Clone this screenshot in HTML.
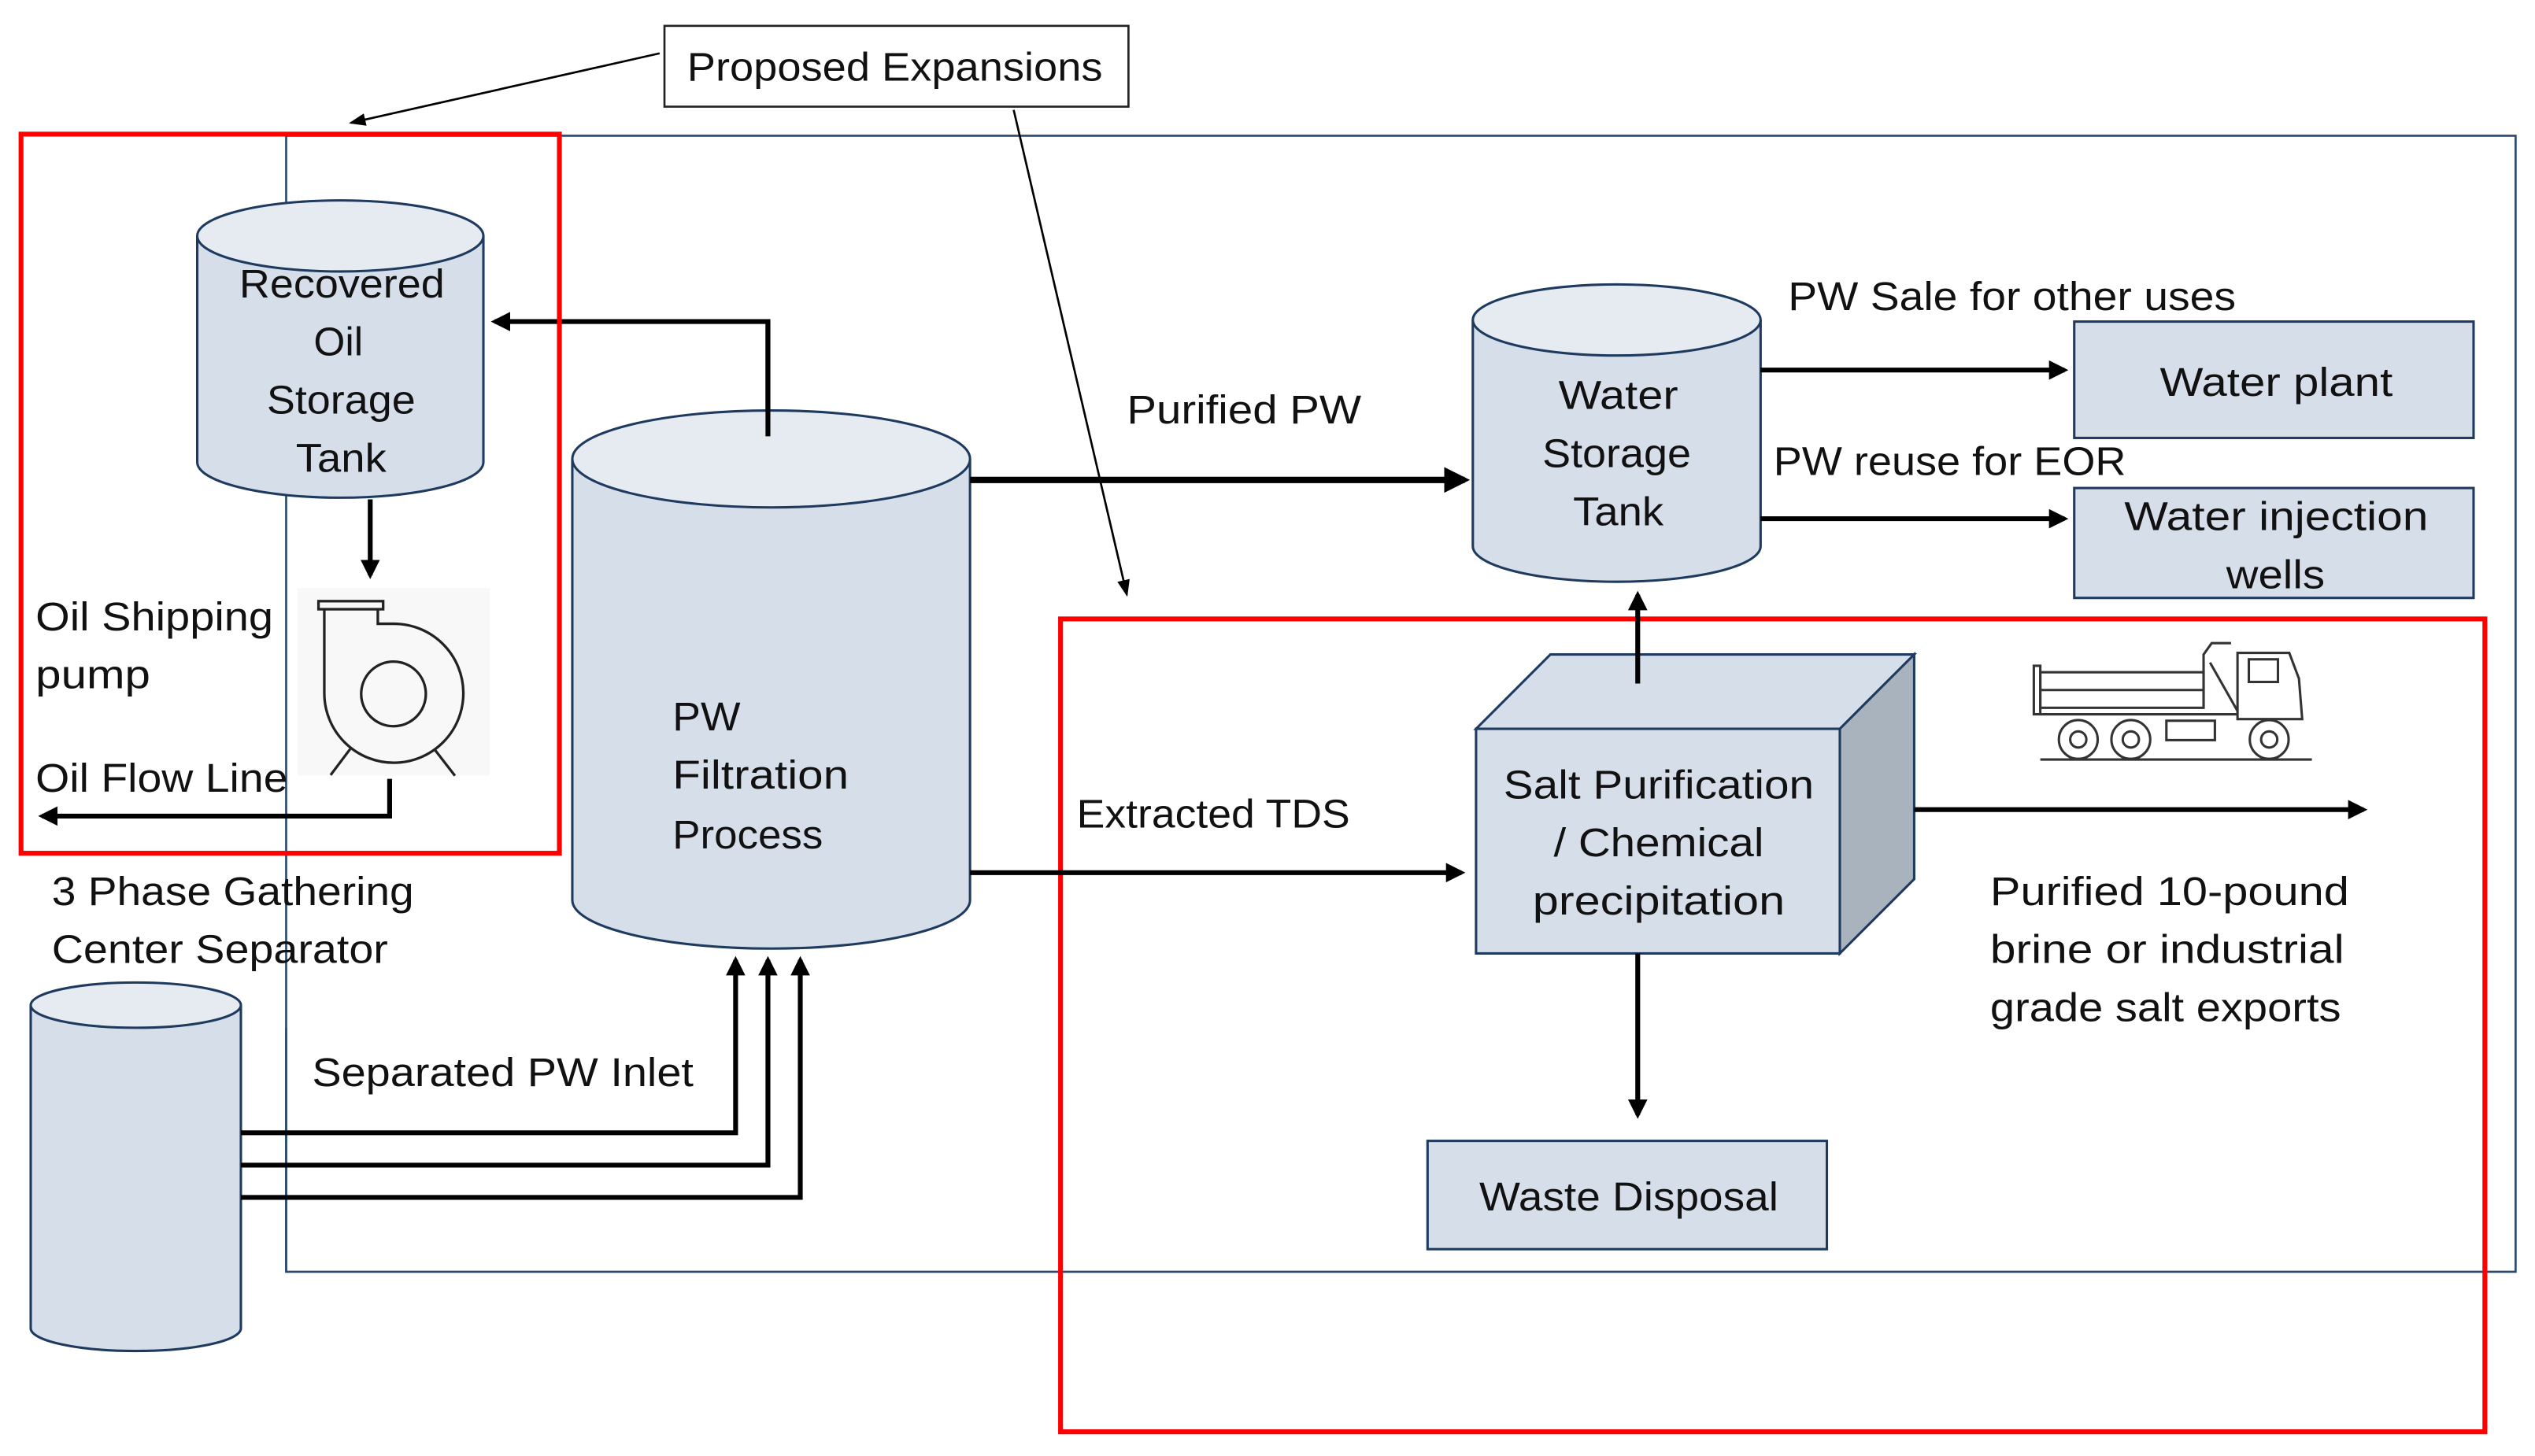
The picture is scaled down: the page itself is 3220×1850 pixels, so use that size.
<!DOCTYPE html>
<html><head><meta charset="utf-8"><style>
html,body{margin:0;padding:0;background:#fff;}
svg{display:block;}
text{font-family:"Liberation Sans Narrow","Liberation Sans",sans-serif;font-size:25px;fill:#111;}
</style></head><body>
<svg width="3220" height="1850" viewBox="0 0 1568 901" preserveAspectRatio="none" xmlns="http://www.w3.org/2000/svg">
<defs>
<marker id="ah" markerWidth="4" markerHeight="4" refX="3.2" refY="2" orient="auto" markerUnits="strokeWidth"><path d="M0,0 L4,2 L0,4 z" fill="#000"/></marker>
<marker id="ahs" markerWidth="8" markerHeight="8" refX="7" refY="4" orient="auto" markerUnits="strokeWidth"><path d="M0,1 L8,4 L0,7 z" fill="#000"/></marker>
</defs>
<rect width="1568" height="901" fill="#fff"/>
<!-- outer blue frame -->
<rect x="177" y="84" width="1379" height="703" fill="none" stroke="#2b4a70" stroke-width="1.3"/>
<!-- proposed expansions -->
<rect x="411" y="16" width="287" height="50" fill="#fff" stroke="#222" stroke-width="1.3"/>
<text x="425" y="50" textLength="257" lengthAdjust="spacingAndGlyphs">Proposed Expansions</text>
<line x1="408" y1="33" x2="217" y2="76" stroke="#000" stroke-width="1.3" marker-end="url(#ahs)"/>
<line x1="627" y1="68" x2="697" y2="368" stroke="#000" stroke-width="1.3" marker-end="url(#ahs)"/>

<!-- Recovered oil tank -->
<path d="M122,146 L122,286 A88.5,22 0 0 0 299,286 L299,146" fill="#d6dfe9" stroke="#1f3a5f" stroke-width="1.5"/>
<ellipse cx="210.5" cy="146" rx="88.5" ry="22" fill="#e6ebf2" stroke="#1f3a5f" stroke-width="1.5"/>
<text x="148" y="184" textLength="127" lengthAdjust="spacingAndGlyphs">Recovered</text>
<text x="194" y="220">Oil</text>
<text x="165" y="256" textLength="92" lengthAdjust="spacingAndGlyphs">Storage</text>
<text x="183" y="292" textLength="56" lengthAdjust="spacingAndGlyphs">Tank</text>
<polyline points="475,270 475,199 306,199" fill="none" stroke="#000" stroke-width="3" marker-end="url(#ah)"/>
<line x1="229" y1="309" x2="229" y2="356" stroke="#000" stroke-width="3" marker-end="url(#ah)"/>

<!-- pump -->
<rect x="184" y="364" width="119" height="116" fill="#f8f8f8"/>
<g fill="none" stroke="#222" stroke-width="1.6">
<rect x="197" y="372" width="40" height="5" fill="#f8f8f8"/>
<path d="M200.6,377 L200.6,429 A43,43 0 1 0 243,386 L233.7,386 L233.7,377"/>
<circle cx="243.4" cy="429.4" r="20"/>
<line x1="216.6" y1="463.5" x2="204.5" y2="479.6"/>
<line x1="269" y1="464" x2="281.4" y2="480"/>
</g>
<text x="22" y="390" textLength="147" lengthAdjust="spacingAndGlyphs">Oil Shipping</text>
<text x="22" y="426" textLength="71" lengthAdjust="spacingAndGlyphs">pump</text>
<text x="22" y="490" textLength="156" lengthAdjust="spacingAndGlyphs">Oil Flow Line</text>
<polyline points="241,482 241,505 26,505" fill="none" stroke="#000" stroke-width="3" marker-end="url(#ah)"/>

<!-- PW filtration tank -->
<path d="M354,284 L354,557 A123,30 0 0 0 600,557 L600,284" fill="#d6dfe9" stroke="#1f3a5f" stroke-width="1.5"/>
<ellipse cx="477" cy="284" rx="123" ry="30" fill="#e6ebf2" stroke="#1f3a5f" stroke-width="1.5"/>
<line x1="475" y1="270" x2="475" y2="199" stroke="#000" stroke-width="3"/>
<text x="416" y="452" textLength="42" lengthAdjust="spacingAndGlyphs">PW</text>
<text x="416" y="488" textLength="109" lengthAdjust="spacingAndGlyphs">Filtration</text>
<text x="416" y="525" textLength="93" lengthAdjust="spacingAndGlyphs">Process</text>

<!-- purified PW -->
<text x="697" y="262" textLength="145" lengthAdjust="spacingAndGlyphs">Purified PW</text>
<line x1="600" y1="297" x2="906" y2="297" stroke="#000" stroke-width="4" marker-end="url(#ah)"/>

<!-- water storage tank -->
<path d="M911,198 L911,338 A89,22 0 0 0 1089,338 L1089,198" fill="#d6dfe9" stroke="#1f3a5f" stroke-width="1.5"/>
<ellipse cx="1000" cy="198" rx="89" ry="22" fill="#e6ebf2" stroke="#1f3a5f" stroke-width="1.5"/>
<text x="964" y="253" textLength="74" lengthAdjust="spacingAndGlyphs">Water</text>
<text x="954" y="289" textLength="92" lengthAdjust="spacingAndGlyphs">Storage</text>
<text x="973" y="325" textLength="56" lengthAdjust="spacingAndGlyphs">Tank</text>

<text x="1106" y="192" textLength="277" lengthAdjust="spacingAndGlyphs">PW Sale for other uses</text>
<line x1="1089" y1="229" x2="1277" y2="229" stroke="#000" stroke-width="3" marker-end="url(#ah)"/>
<rect x="1283" y="199" width="247" height="72" fill="#d6dfe9" stroke="#1f3a5f" stroke-width="1.5"/>
<text x="1336" y="245" textLength="144" lengthAdjust="spacingAndGlyphs">Water plant</text>
<text x="1097" y="294" textLength="218" lengthAdjust="spacingAndGlyphs">PW reuse for EOR</text>
<line x1="1089" y1="321" x2="1277" y2="321" stroke="#000" stroke-width="3" marker-end="url(#ah)"/>
<rect x="1283" y="302" width="247" height="68" fill="#d6dfe9" stroke="#1f3a5f" stroke-width="1.5"/>
<text x="1314" y="328" textLength="188" lengthAdjust="spacingAndGlyphs">Water injection</text>
<text x="1377" y="364" textLength="61" lengthAdjust="spacingAndGlyphs">wells</text>

<!-- red boxes -->
<rect x="13" y="83" width="333" height="445" fill="none" stroke="#ff0000" stroke-width="3"/>
<rect x="656" y="383" width="881" height="503" fill="none" stroke="#ff0000" stroke-width="3"/>

<!-- cube -->
<polygon points="913,451 959,405 1184,405 1138,451" fill="#d6dfe9" stroke="#1f3a5f" stroke-width="1.5"/>
<polygon points="1138,451 1184,405 1184,544 1138,590" fill="#a9b3bd" stroke="#1f3a5f" stroke-width="1.5"/>
<rect x="913" y="451" width="225" height="139" fill="#d6dfe9" stroke="#1f3a5f" stroke-width="1.5"/>
<text x="930" y="494" textLength="192" lengthAdjust="spacingAndGlyphs">Salt Purification</text>
<text x="961" y="530" textLength="130" lengthAdjust="spacingAndGlyphs">/ Chemical</text>
<text x="948" y="566" textLength="156" lengthAdjust="spacingAndGlyphs">precipitation</text>
<line x1="1013" y1="423" x2="1013" y2="368" stroke="#000" stroke-width="3" marker-end="url(#ah)"/>
<line x1="1013" y1="590" x2="1013" y2="690" stroke="#000" stroke-width="3" marker-end="url(#ah)"/>
<rect x="883" y="706" width="247" height="67" fill="#d6dfe9" stroke="#1f3a5f" stroke-width="1.5"/>
<text x="915" y="749" textLength="185" lengthAdjust="spacingAndGlyphs">Waste Disposal</text>

<text x="666" y="512" textLength="169" lengthAdjust="spacingAndGlyphs">Extracted TDS</text>
<line x1="600" y1="540" x2="904" y2="540" stroke="#000" stroke-width="3" marker-end="url(#ah)"/>
<line x1="1184" y1="501" x2="1462" y2="501" stroke="#000" stroke-width="3" marker-end="url(#ah)"/>

<!-- truck -->
<g fill="none" stroke="#333" stroke-width="1.5">
<rect x="1258" y="412" width="4" height="30"/>
<rect x="1262" y="416" width="101" height="22"/>
<line x1="1262" y1="427" x2="1363" y2="427"/>
<line x1="1262" y1="442" x2="1384" y2="442"/>
<path d="M1363,438 L1363,405 L1368,398 L1380,398"/>
<path d="M1384,445 L1384,404 L1416,404 L1422,420 L1424,445 Z"/>
<rect x="1391" y="408" width="18" height="14"/>
<line x1="1367" y1="410" x2="1384" y2="440"/>
<rect x="1340" y="446" width="30" height="12"/>
<circle cx="1285.5" cy="457.6" r="12"/><circle cx="1285.5" cy="457.6" r="5"/>
<circle cx="1318" cy="457.6" r="12"/><circle cx="1318" cy="457.6" r="5"/>
<circle cx="1403.6" cy="457.6" r="12"/><circle cx="1403.6" cy="457.6" r="5"/>
<line x1="1262" y1="470" x2="1430" y2="470"/>
</g>

<text x="1231" y="560" textLength="222" lengthAdjust="spacingAndGlyphs">Purified 10-pound</text>
<text x="1231" y="596" textLength="219" lengthAdjust="spacingAndGlyphs">brine or industrial</text>
<text x="1231" y="632" textLength="217" lengthAdjust="spacingAndGlyphs">grade salt exports</text>

<!-- separator -->
<text x="32" y="560" textLength="224" lengthAdjust="spacingAndGlyphs">3 Phase Gathering</text>
<text x="32" y="596" textLength="208" lengthAdjust="spacingAndGlyphs">Center Separator</text>
<path d="M19,622 L19,822 A65,14 0 0 0 149,822 L149,622" fill="#d6dfe9" stroke="#1f3a5f" stroke-width="1.5"/>
<ellipse cx="84" cy="622" rx="65" ry="14" fill="#e6ebf2" stroke="#1f3a5f" stroke-width="1.5"/>
<line x1="177" y1="636" x2="177" y2="787" stroke="#2b4a70" stroke-width="1.3"/>
<text x="193" y="672" textLength="236" lengthAdjust="spacingAndGlyphs">Separated PW Inlet</text>
<polyline points="149,701 455,701 455,594" fill="none" stroke="#000" stroke-width="3" marker-end="url(#ah)"/>
<polyline points="149,721 475,721 475,594" fill="none" stroke="#000" stroke-width="3" marker-end="url(#ah)"/>
<polyline points="149,741 495,741 495,594" fill="none" stroke="#000" stroke-width="3" marker-end="url(#ah)"/>
</svg>
</body></html>
